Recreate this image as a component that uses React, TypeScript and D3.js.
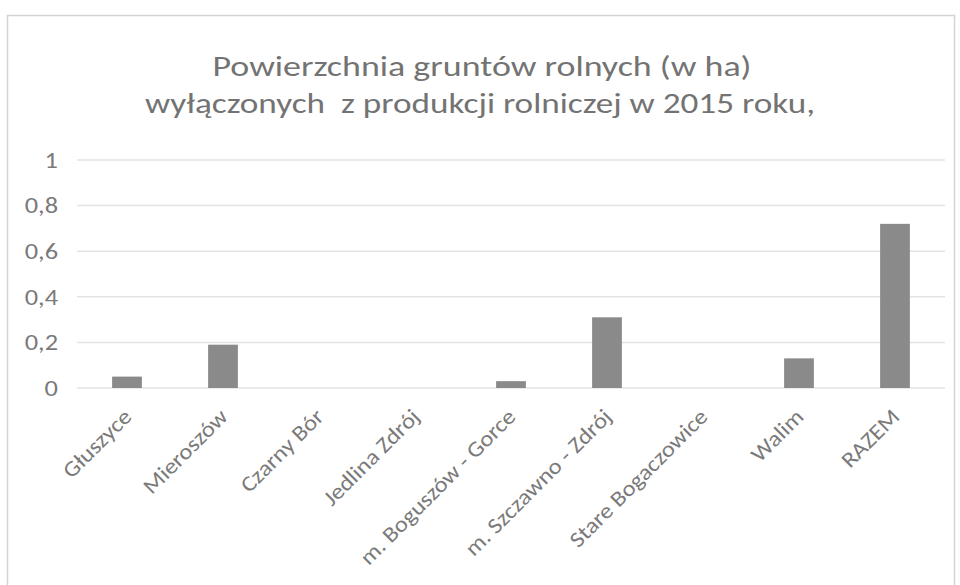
import React, { useEffect, useRef } from 'react';
import * as d3 from 'd3';

const categories = [
  'Głuszyce',
  'Mieroszów',
  'Czarny Bór',
  'Jedlina Zdrój',
  'm. Boguszów - Gorce',
  'm. Szczawno - Zdrój',
  'Stare Bogaczowice',
  'Walim',
  'RAZEM',
];
const values = [0.05, 0.19, 0, 0, 0.03, 0.31, 0, 0.13, 0.72];
const yTicks = [0, 0.2, 0.4, 0.6, 0.8, 1];
const titleLines = [
  'Powierzchnia gruntów rolnych (w ha)',
  'wyłączonych  z produkcji rolniczej w 2015 roku,',
];
const titleWidths = [539, 670];

const W = 960;
const H = 585;
const FONT = "Carlito, 'Liberation Sans Narrow', 'Open Sans', sans-serif";

const App = () => {
  const ref = useRef<SVGSVGElement>(null);

  useEffect(() => {
    const svg = d3.select(ref.current);
    svg.selectAll('*').remove();

    const x = d3.scaleBand()
      .domain(categories)
      .range([79, 943])
      .paddingInner(0.69)
      .paddingOuter(0.345);

    const y = d3.scaleLinear()
      .domain([0, 1])
      .range([388, 160]);

    svg.append('rect')
      .attr('width', W).attr('height', H)
      .attr('fill', '#fff');

    // chart frame
    svg.append('rect')
      .attr('x', 7.5).attr('y', 15.5)
      .attr('width', 947).attr('height', 600)
      .attr('fill', 'none')
      .attr('stroke', '#d4d4d4')
      .attr('stroke-width', 1.5);

    svg.append('g')
      .selectAll('text')
      .data(titleLines)
      .enter().append('text')
      .attr('x', (d, i) => (i === 0 ? 482 : 480))
      .attr('y', (d, i) => 76 + i * 37)
      .attr('text-anchor', 'middle')
      .attr('font-family', FONT)
      .attr('font-size', 29)
      .attr('fill', '#737373')
      .attr('textLength', (d, i) => titleWidths[i])
      .attr('lengthAdjust', 'spacingAndGlyphs')
      .attr('xml:space', 'preserve')
      .text(d => d);

    // gridlines
    svg.append('g')
      .selectAll('line')
      .data(yTicks)
      .enter().append('line')
      .attr('x1', 77).attr('x2', 945)
      .attr('y1', d => y(d)).attr('y2', d => y(d))
      .attr('stroke', '#e3e3e3')
      .attr('stroke-width', 1.5);

    const fmt = (d: number) => String(d).replace('.', ',');

    svg.append('g')
      .selectAll('text')
      .data(yTicks)
      .enter().append('text')
      .attr('transform', d => `translate(58,${y(d)}) scale(1.2,1)`)
      .attr('dy', '0.35em')
      .attr('text-anchor', 'end')
      .attr('font-family', FONT)
      .attr('font-size', 22)
      .attr('fill', '#7a7a7a')
      .text(d => fmt(d));

    svg.append('g')
      .selectAll('rect')
      .data(values)
      .enter().append('rect')
      .attr('x', (d, i) => x(categories[i]) as number)
      .attr('width', x.bandwidth())
      .attr('y', d => y(d))
      .attr('height', d => y(0) - y(d))
      .attr('fill', '#8a8a8a');

    svg.append('g')
      .selectAll('text')
      .data(categories)
      .enter().append('text')
      .attr('transform', d => `translate(${(x(d) as number) + x.bandwidth() / 2 + 6},${y(0) + 30}) rotate(-45) scale(1.12,1)`)
      .attr('text-anchor', 'end')
      .attr('font-family', FONT)
      .attr('font-size', 22)
      .attr('fill', '#7a7a7a')
      .text(d => d);
  }, []);

  return (
    <svg ref={ref} width={W} height={H} style={{ position: 'absolute', left: 0, top: 0 }} />
  );
};

export default App;
